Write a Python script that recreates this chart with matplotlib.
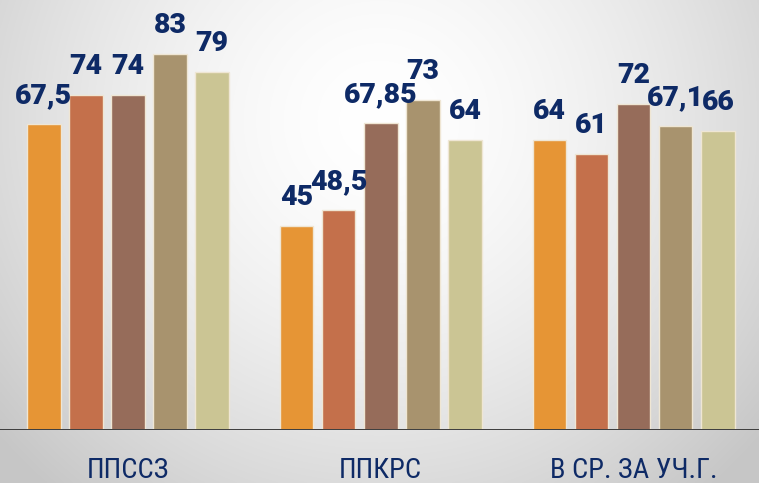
import numpy as np
import matplotlib
matplotlib.use("Agg")
import matplotlib.pyplot as plt
from matplotlib import font_manager

categories = ["ППССЗ", "ППКРС", "В СР. ЗА УЧ.Г."]
series_values = [
    [67.5, 45, 64],
    [74, 48.5, 61],
    [74, 67.85, 72],
    [83, 73, 67.1],
    [79, 64, 66],
]
value_labels = [
    ["67,5", "45", "64"],
    ["74", "48,5", "61"],
    ["74", "67,85", "72"],
    ["83", "73", "67,1"],
    ["79", "64", "66"],
]
colors = ["#E69535", "#C4704B", "#966C5A", "#A8936E", "#CBC594"]
navy = "#0E2A66"

names = {f.name for f in font_manager.fontManager.ttflist}
narrow = [n for n in ["Liberation Sans Narrow", "Roboto Condensed", "Open Sans Condensed"] if n in names]

W, H, DPI = 759, 483, 100
fig = plt.figure(figsize=(W / DPI, H / DPI), dpi=DPI)

# background radial gradient
bg = fig.add_axes([0, 0, 1, 1], zorder=-10)
yy, xx = np.mgrid[0:1:300j, 0:1:400j]
r = np.sqrt(((xx - 0.5) / 0.62) ** 2 + ((yy - 0.25) / 0.95) ** 2)
val = 1.0 - 0.2 * np.clip(r, 0, 1.2) ** 1.6
val = np.clip(val, 0.78, 1.0)
img = np.dstack([val, val, val])
bg.imshow(img, aspect="auto", extent=[0, 1, 0, 1], origin="upper", interpolation="bilinear")
bg.set_axis_off()

bottom = (H - 429.5) / H
ax = fig.add_axes([0, bottom, 1, 1 - bottom])
ax.set_facecolor("none")
scale_y = 4.52
ax.set_ylim(0, 429.5 / scale_y)
sx = 252.8
ax.set_xlim(-128 / sx, (W - 128) / sx)

x = np.arange(len(categories))
bw = 33.5 / sx
step = 42.1 / sx
for i, (vals, labs, c) in enumerate(zip(series_values, value_labels, colors)):
    xs = x + (i - 2) * step
    ax.bar(xs, vals, width=bw, color=c, edgecolor="#EFE6D4", linewidth=1.0, zorder=2)
    for xi, v, lab in zip(xs, vals, labs):
        ax.annotate(lab, (xi, v), xytext=(0, 21 * 72 / DPI), textcoords="offset points",
                    ha="center", va="baseline", color=navy, fontsize=20.5,
                    fontweight=900, family=["Roboto", "DejaVu Sans"], zorder=5)

ax.axhline(0, color="#404040", linewidth=3 * 72 / DPI, zorder=4)

for xi, cat in zip(x, categories):
    ax.text(xi, -49 / scale_y, cat, ha="center", va="baseline", color=navy,
            fontsize=20.5, family=narrow + ["Roboto", "DejaVu Sans"], clip_on=False)

ax.set_axis_off()
fig.savefig("out.png", dpi=DPI)
